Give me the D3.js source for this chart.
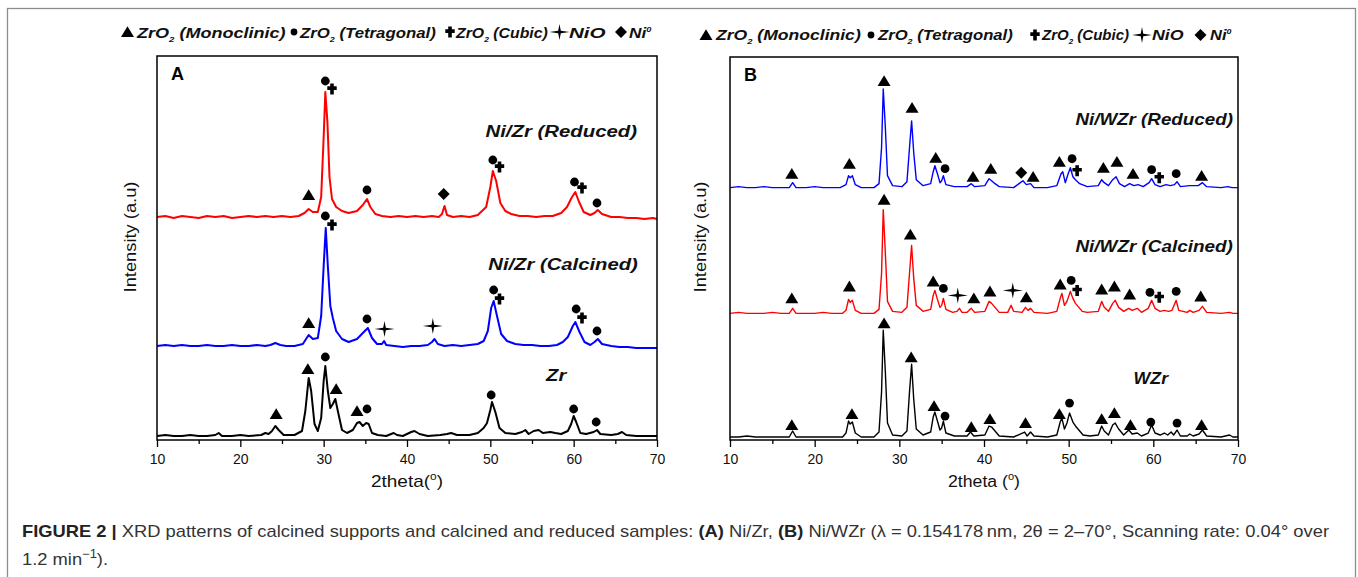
<!DOCTYPE html>
<html><head><meta charset="utf-8">
<script src="https://cdn.jsdelivr.net/npm/d3@7"></script>
<style>body{margin:0;background:#fff} svg{display:block}</style>
</head><body>
<svg id="c" width="1358" height="577"></svg>
<script>
// ---------------- DATA ----------------
const xTicks = [10, 20, 30, 40, 50, 60, 70];
const xMinorTicks = [15, 25, 35, 45, 55, 65];
const yDomain = [0, 384];

const namesA = ["Ni/Zr (Reduced)", "Ni/Zr (Calcined)", "Zr"];
const namesB = ["Ni/WZr (Reduced)", "Ni/WZr (Calcined)", "WZr"];
// vertical stacking offset of each pattern (a.u.)
const offsetsA = [223, 94, 4];
const offsetsB = [253, 127, 3];

// [2theta, intensity above pattern baseline]
const A_reduced = [[10,0],[11,1],[12,-1],[13,1],[14,0],[15,-1],[16,1],[17,0],[18,1],[19,-1],[20,0],[21,1],[22,0],[23,1],[24,0],[25,1],[26,0],[27,1],[27.7,4],[28.2,8],[28.7,5],[29.3,5],[29.7,20],[30.0,80],[30.2,125],[30.45,95],[30.7,40],[31.0,18],[31.5,10],[32.2,6],[33,4],[34,6],[34.7,12],[35.2,18],[35.6,10],[36.2,3],[37,1],[38,0],[39,1],[40,0],[41,1],[42,0],[43,1],[43.8,0],[44.2,3],[44.5,11],[44.8,2],[45.5,0],[46.5,1],[47.5,0],[48.5,2],[49.5,10],[50.0,30],[50.3,46],[50.7,36],[51.2,14],[51.8,6],[52.5,3],[53.5,1],[54.5,1],[55.5,0],[56.5,1],[57.5,1],[58.5,4],[59.2,10],[59.8,20],[60.2,25],[60.6,16],[61.2,5],[62.0,2],[62.5,4],[62.9,7],[63.4,3],[64.5,0],[65.5,0],[66.5,-1],[67.5,-1],[68.5,-2],[69.5,-1],[70,-2]];
const A_calcined = [[10,0],[11,1],[12,0],[13,1],[14,0],[15,0],[16,1],[17,0],[18,0],[19,1],[20,0],[21,0],[22,1],[23,0],[23.6,1],[24.2,3],[24.8,1],[25.5,0],[26.5,0],[27.5,2],[28.2,11],[28.7,7],[29.3,8],[29.7,30],[30.0,80],[30.25,118],[30.5,80],[30.8,40],[31.1,28],[31.5,15],[32.2,7],[33,4],[34,7],[34.7,13],[35.3,18],[35.8,8],[36.4,2],[37.0,2],[37.25,5],[37.5,1],[38.5,0],[39.5,-1],[40.5,0],[41.5,0],[42.5,1],[43.0,4],[43.3,7],[43.7,2],[44.5,0],[45.5,1],[46.5,0],[47.5,1],[48.5,2],[49.2,5],[49.7,15],[50.1,38],[50.4,45],[50.8,30],[51.3,12],[52,5],[53,2],[54,1],[55,1],[56,0],[57,0],[58,1],[58.7,4],[59.3,9],[59.9,20],[60.2,24],[60.7,14],[61.3,4],[62.0,1],[62.5,4],[62.9,7],[63.4,2],[64.5,0],[65.5,-1],[66.5,-1],[67.5,-2],[68.5,-2],[70,-2]];
const A_support = [[10,0],[11,1],[12,0],[13,0],[14,1],[15,0],[16,0],[17.0,1],[17.4,3],[17.8,0],[19,0],[20,1],[21,0],[22.5,1],[23.0,3],[23.4,2],[23.8,5],[24.2,10],[24.6,6],[25.2,1],[26.5,1],[27.4,5],[27.8,25],[28.2,58],[28.5,45],[28.9,12],[29.3,5],[29.7,18],[30.0,55],[30.2,70],[30.5,45],[30.8,28],[31.1,32],[31.4,37],[31.7,25],[32.2,6],[32.8,3],[33.5,6],[34.0,13],[34.3,14],[34.7,10],[35.1,13],[35.4,12],[35.8,3],[36.5,1],[37.5,0],[38.4,3],[38.8,1],[39.5,0],[40.5,4],[40.9,5],[41.5,2],[42.5,0],[44,1],[44.8,2],[45.3,3],[46,1],[47.5,1],[48.5,3],[49.2,8],[49.6,13],[50.0,26],[50.2,34],[50.6,24],[51.1,8],[51.8,3],[53,2],[53.8,4],[54.2,6],[54.6,2],[55.2,5],[55.8,6],[56.3,3],[57.2,4],[57.8,3],[58.5,2],[59.3,5],[59.7,12],[60.0,20],[60.3,14],[60.8,3],[61.5,2],[62.4,4],[62.8,6],[63.2,2],[64.5,1],[65.3,2],[65.8,4],[66.3,1],[67.5,0],[69,0],[70,0]];

const B_reduced = [[10,0],[11,1],[12,0],[13,0],[14,1],[15,0],[16,0],[17.0,0],[17.4,5],[17.8,0],[19,0],[20,1],[21,0],[22,0],[23,0],[23.7,3],[24.0,12],[24.2,10],[24.45,12],[24.8,3],[25.5,0],[27,0],[27.6,4],[27.9,40],[28.1,99],[28.35,60],[28.6,12],[29.2,2],[30.3,1],[30.9,6],[31.2,40],[31.45,67],[31.7,35],[32.0,8],[32.8,2],[33.7,4],[34.0,16],[34.2,22],[34.5,14],[34.8,5],[35.0,7],[35.2,12],[35.5,3],[36.5,1],[38.0,1],[38.5,4],[38.9,1],[40.1,2],[40.6,9],[40.9,7],[41.3,4],[41.8,1],[43.5,0],[44.3,5],[44.6,7],[45.0,3],[45.5,4],[45.9,0],[47.5,0],[48.6,2],[49.1,14],[49.3,16],[49.6,5],[49.9,13],[50.2,20],[50.5,11],[50.8,8],[51.3,4],[52.2,1],[53.5,2],[53.9,8],[54.2,5],[54.7,2],[55.2,8],[55.6,11],[56.0,4],[56.6,1],[57.2,4],[57.7,2],[58.2,3],[58.8,1],[59.5,5],[59.8,9],[60.2,3],[60.8,1],[61.5,3],[62.0,2],[62.5,3],[62.8,6],[63.2,1],[64.3,2],[65.3,2],[65.8,5],[66.3,1],[68,0],[68.8,1],[69.3,0],[70,0]];
const B_calcined = [[10,0],[11,1],[12,0],[13,0],[14,0],[15,1],[16,0],[17.0,0],[17.4,5],[17.8,0],[19,0],[20,0],[21,1],[22,0],[23.3,0],[23.7,3],[24.0,14],[24.2,11],[24.45,13],[24.8,3],[25.5,0],[27,0],[27.6,4],[27.9,40],[28.1,104],[28.35,60],[28.6,12],[29.2,2],[30.3,1],[30.9,6],[31.2,40],[31.45,68],[31.7,35],[32.0,8],[32.8,2],[33.7,4],[34.0,18],[34.2,23],[34.5,14],[34.8,6],[35.0,8],[35.2,15],[35.5,4],[36.3,1],[36.8,2],[37.1,5],[37.4,1],[38.0,1],[38.5,5],[38.9,1],[40.1,2],[40.6,12],[40.9,10],[41.3,6],[41.8,1],[42.8,1],[43.2,8],[43.5,2],[44.5,1],[44.9,6],[45.2,3],[45.5,5],[45.9,1],[47.5,0],[48.6,2],[49.0,15],[49.2,20],[49.5,8],[49.8,12],[50.2,22],[50.5,15],[50.8,10],[51.2,6],[51.6,2],[52.2,1],[53.5,2],[53.9,12],[54.2,6],[54.7,2],[55.2,10],[55.5,13],[55.9,6],[56.5,2],[57.1,5],[57.5,3],[58.1,5],[58.6,1],[59.4,5],[59.8,13],[60.2,5],[60.8,2],[61.3,3],[61.8,2],[62.2,3],[62.7,13],[63.0,3],[64.0,1],[64.3,3],[64.7,1],[65.4,3],[65.8,7],[66.3,1],[68,0],[69.0,1],[69.4,0],[70,0]];
const B_support = [[10,0],[11,0],[12,1],[13,0],[14,0],[15,0],[16,0],[17.0,0],[17.4,6],[17.8,0],[19,0],[20,0],[21,0],[22,0],[23.3,0],[23.7,4],[24.0,16],[24.2,13],[24.45,15],[24.8,4],[25.5,0],[27,0],[27.6,5],[27.9,45],[28.1,107],[28.35,65],[28.6,14],[29.2,2],[30.3,1],[30.9,6],[31.2,45],[31.45,73],[31.7,38],[32.0,8],[32.8,2],[33.7,5],[34.0,20],[34.2,25],[34.5,16],[34.8,7],[35.0,9],[35.2,16],[35.5,4],[36.5,1],[38.0,1],[38.4,5],[38.8,1],[40.1,2],[40.6,11],[40.9,10],[41.3,6],[41.8,1],[43.5,0],[44.8,5],[45.1,1],[45.5,5],[45.9,1],[47.5,0],[48.6,2],[49.0,15],[49.2,19],[49.5,8],[49.8,14],[50.1,24],[50.5,15],[50.9,10],[51.3,6],[51.7,2],[52.5,1],[53.5,2],[53.9,11],[54.2,6],[54.7,2],[55.2,12],[55.5,14],[55.9,8],[56.5,2],[57.1,7],[57.5,3],[58.1,4],[58.6,1],[59.4,4],[59.8,12],[60.2,4],[60.8,2],[61.3,4],[61.7,2],[62.1,5],[62.4,2],[62.8,7],[63.2,1],[64.0,1],[64.3,3],[64.7,1],[65.4,3],[65.8,7],[66.3,1],[68,0],[69.0,2],[69.4,0],[70,0]];

// phase markers: [symbol, 2theta, intensity]
const markersA = [
  ["tri",28.2,245],["circ",30.2,359],["cubic",31.0,351],["circ",35.2,250],["diam",44.4,246],["circ",50.3,280],["cubic",51.1,273],["circ",60.1,258],["cubic",61.0,252],["circ",62.8,237],
  ["tri",28.2,117],["circ",30.2,224],["cubic",31.0,215],["circ",35.2,121],["nio",37.3,111],["nio",43.1,114],["circ",50.4,150],["cubic",51.1,141],["circ",60.3,131],["cubic",61.0,122],["circ",62.8,109],
  ["tri",24.3,26],["tri",28.1,71],["circ",30.2,83],["tri",31.5,51],["tri",34.0,29],["circ",35.2,31],["circ",50.1,45],["circ",60.0,31],["circ",62.7,18]
];
const markersB = [
  ["tri",17.3,267],["tri",24.1,277],["tri",28.2,360],["tri",31.5,333],["tri",34.3,283],["circ",35.4,272],["tri",38.7,264],["tri",40.8,272],["diam",44.4,268],["tri",45.8,264],["tri",48.9,279],["circ",50.4,282],["cubic",51.0,270],["tri",54.1,273],["tri",55.7,279],["tri",57.6,267],["circ",59.8,271],["cubic",60.7,263],["circ",62.7,267],["tri",65.7,265],
  ["tri",28.2,241],["tri",31.3,206],["tri",17.3,142],["tri",24.1,154],["tri",34.0,159],["circ",35.2,152],["nio",36.9,145],["tri",38.8,142],["tri",40.7,149],["nio",43.4,150],["tri",45.0,143],["tri",49.0,156],["circ",50.3,160],["cubic",51.0,150],["tri",53.9,151],["tri",55.4,154],["tri",57.2,146],["circ",59.6,148],["cubic",60.7,143],["circ",62.7,149],["tri",65.6,144],
  ["tri",28.2,117],["tri",31.4,83],["tri",17.3,15],["tri",24.4,26],["tri",34.1,34],["circ",35.4,24],["tri",38.5,13],["tri",40.7,21],["tri",44.9,17],["tri",48.9,26],["circ",50.1,37],["tri",53.9,21],["tri",55.4,27],["tri",57.3,15],["circ",59.7,18],["circ",62.8,17],["tri",65.7,15]
];

// legend entries
const legendSymbols = ["tri", "circ", "cubic", "nio", "diam"];
const legendMain = ["ZrO", "ZrO", "ZrO", "NiO", "Ni"];
const legendSub = ["2", "2", "2", "", ""];
const legendSup = ["", "", "", "", "0"];
const legendRest = [" (Monoclinic)", " (Tetragonal)", " (Cubic)", "", ""];

// ---------------- LAYOUT / STYLE ----------------
const svg = d3.select("#c");
const FONT = "'Liberation Sans', Arial, Helvetica, sans-serif";

svg.append("rect").attr("x", 7.5).attr("y", 8.5).attr("width", 1348).attr("height", 620)
  .attr("fill", "none").attr("stroke", "#8c8c8c").attr("stroke-width", 1.3);

function symPath(t, small) {
  switch (t) {
    case "tri": return "M0,-5.8L6.5,5L-6.5,5Z";
    case "circ": return d3.symbol(d3.symbolCircle, Math.PI * (small ? 3.4 : 4.4) ** 2)();
    case "diam": return "M0,-6L6,0L0,6L-6,0Z";
    case "cubic": return "M-1.8,-5.5H1.8V-2.7H4.7V0.9H1.8V5.5H-1.8V0.9H-4.7V-2.7H-1.8Z";
    case "nio": return "M0,-8L1.3,-1.3L10,0L1.3,1.3L0,8L-1.3,1.3L-10,0L-1.3,-1.3Z";
  }
}

// stretch a text element horizontally to a target width
function stretch(textSel, target) {
  const w = textSel.node().getBBox().width;
  if (w > 0) textSel.attr("transform", `scale(${target / w},1)`);
}

function drawPanel(cfg) {
  const x = d3.scaleLinear().domain([10, 70]).range([cfg.x0, cfg.x1]);
  const y = d3.scaleLinear().domain(yDomain).range([cfg.y1, cfg.y0]);
  const g = svg.append("g");
  const line = d3.line().x(d => x(d[0])).y(d => y(d[1]));

  cfg.series.forEach((s, i) => {
    g.append("path")
      .datum(s.map(p => [p[0], p[1] + cfg.offsets[i]]))
      .attr("d", line).attr("fill", "none")
      .attr("stroke", cfg.colors[i]).attr("stroke-width", cfg.lw)
      .attr("stroke-linejoin", "round");
  });

  g.append("rect").attr("x", cfg.x0).attr("y", cfg.y0)
    .attr("width", cfg.x1 - cfg.x0).attr("height", cfg.y1 - cfg.y0)
    .attr("fill", "none").attr("stroke", "#000").attr("stroke-width", 1.5);

  const minor = g.append("g").attr("transform", `translate(0,${cfg.y1})`)
    .call(d3.axisBottom(x).tickValues(xMinorTicks).tickSize(4).tickFormat(""));
  minor.select(".domain").remove();
  minor.selectAll("line").attr("stroke", "#000").attr("stroke-width", 1.3);

  const ax = g.append("g").attr("transform", `translate(0,${cfg.y1})`)
    .call(d3.axisBottom(x).tickValues(xTicks).tickSize(7).tickPadding(7).tickFormat(d3.format("d")));
  ax.select(".domain").remove();
  ax.selectAll("line").attr("stroke", "#000").attr("stroke-width", 1.3);
  ax.selectAll("text").attr("font-family", FONT).attr("font-size", 14).attr("fill", "#111");

  // x title
  const xt = g.append("g").attr("transform", `translate(${(cfg.x0 + cfg.x1) / 2},${cfg.y1 + 47})`)
    .append("text").attr("text-anchor", "middle").attr("font-family", FONT)
    .attr("font-size", 16).attr("fill", "#111");
  xt.append("tspan").text(cfg.xTitle);
  xt.append("tspan").attr("font-size", 10).attr("dy", -7).text("o");
  xt.append("tspan").attr("dy", 7).text(")");
  stretch(xt, cfg.xTitleW);

  // y title
  const yt = g.append("g").attr("transform", `translate(${cfg.yTitleX},${cfg.yTitleY}) rotate(-90)`)
    .append("text").attr("text-anchor", "middle").attr("font-family", FONT)
    .attr("font-size", 16).attr("fill", "#111").text("Intensity (a.u)");
  stretch(yt, 111);

  // panel letter
  g.append("text").attr("x", cfg.x0 + 14).attr("y", cfg.y0 + 24)
    .attr("font-family", FONT).attr("font-weight", "bold").attr("font-size", 18)
    .attr("fill", "#000").text(cfg.letter);

  // markers
  g.selectAll("path.mk").data(cfg.markers).join("path").attr("class", "mk")
    .attr("transform", d => `translate(${x(d[1])},${y(d[2])})`)
    .attr("d", d => symPath(d[0])).attr("fill", "#000");

  // series labels
  cfg.names.forEach((n, i) => {
    const L = cfg.labels[i];
    const t = g.append("g").attr("transform", `translate(${x(L[0])},${y(L[1])})`)
      .append("text").attr("text-anchor", L[2]).attr("dominant-baseline", "central")
      .attr("font-family", FONT).attr("font-weight", "bold").attr("font-style", "italic")
      .attr("font-size", 17).attr("fill", "#111").text(n);
    stretch(t, L[3]);
  });

  // legend
  legendSymbols.forEach((s, i) => {
    const lg = cfg.legend;
    svg.append("path").attr("transform", `translate(${lg.sx[i]},${lg.cy})`)
      .attr("d", symPath(s, true)).attr("fill", "#000");
    const t = svg.append("g").attr("transform", `translate(${lg.tx[i]},${lg.base})`)
      .append("text").attr("font-family", FONT).attr("font-weight", "bold")
      .attr("font-style", "italic").attr("font-size", 15).attr("fill", "#111");
    t.append("tspan").text(legendMain[i]);
    if (legendSub[i]) t.append("tspan").attr("font-size", 8).attr("dy", 4).text(legendSub[i]);
    if (legendSup[i]) t.append("tspan").attr("font-size", 8).attr("dy", -6).text(legendSup[i]);
    if (legendRest[i]) t.append("tspan").attr("dy", legendSub[i] ? -4 : 0).text(legendRest[i]);
    stretch(t, lg.w[i]);
  });
}

drawPanel({
  x0: 157, x1: 657, y0: 56, y1: 440, lw: 2, letter: "A",
  series: [A_reduced, A_calcined, A_support], offsets: offsetsA,
  colors: ["#ff0000", "#0000ff", "#000000"], names: namesA,
  labels: [[67.6, 309, "end", 152], [67.7, 176, "end", 150], [57.9, 65, "middle", 23]],
  markers: markersA, xTitle: "2theta(", xTitleW: 72, yTitleX: 136, yTitleY: 237,
  legend: { sx: [127.5, 294, 450, 559.5, 621], tx: [137, 300, 456, 569, 629],
            w: [150, 137, 93, 37, 23], cy: 32, base: 38 }
});
drawPanel({
  x0: 730, x1: 1238, y0: 57, y1: 440, lw: 1.4, letter: "B",
  series: [B_reduced, B_calcined, B_support], offsets: offsetsB,
  colors: ["#0000ff", "#ff0000", "#000000"], names: namesB,
  labels: [[69.4, 322, "end", 158], [69.4, 194, "end", 158], [59.7, 62, "middle", 36]],
  markers: markersB, xTitle: "2theta (", xTitleW: 72, yTitleX: 706, yTitleY: 237,
  legend: { sx: [706, 871, 1035, 1142, 1200.5], tx: [716, 878, 1042, 1152, 1210],
            w: [146, 136, 88, 32, 22], cy: 35, base: 40 }
});

// caption
const cap = svg.append("g").attr("transform", "translate(22,537)")
  .append("text").attr("font-family", FONT).attr("font-size", 17).attr("fill", "#333");
cap.append("tspan").attr("font-weight", "bold").attr("fill", "#222").text("FIGURE 2 | ");
cap.append("tspan").text("XRD patterns of calcined supports and calcined and reduced samples: ");
cap.append("tspan").attr("font-weight", "bold").attr("fill", "#222").text("(A)");
cap.append("tspan").text(" Ni/Zr, ");
cap.append("tspan").attr("font-weight", "bold").attr("fill", "#222").text("(B)");
cap.append("tspan").text(" Ni/WZr (\u03bb = 0.154178\u2009nm, 2\u03b8 = 2\u201370\u00b0, Scanning rate: 0.04\u00b0 over");
const capW = cap.node().getBBox().width;
const k = 1308 / capW;
cap.attr("transform", `scale(${k},1)`);
const cap2 = svg.append("g").attr("transform", "translate(22,565)")
  .append("text").attr("font-family", FONT).attr("font-size", 17).attr("fill", "#333")
  .attr("transform", `scale(${k},1)`);
cap2.append("tspan").text("1.2 min");
cap2.append("tspan").attr("font-size", 12).attr("dy", -7).text("\u22121");
cap2.append("tspan").attr("dy", 7).text(").");
</script>
</body></html>
